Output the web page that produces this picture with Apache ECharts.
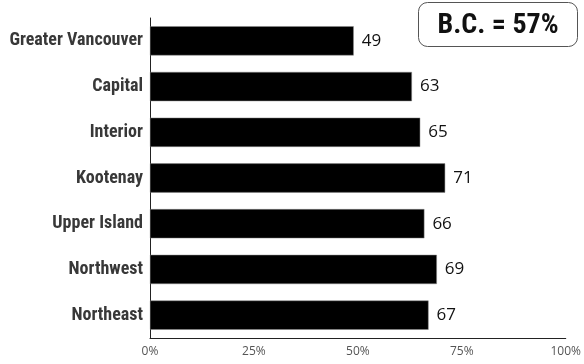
<!DOCTYPE html>
<html><head><meta charset="utf-8">
<script src="https://cdn.jsdelivr.net/npm/echarts@6/dist/echarts.min.js"></script>
<style>html,body{margin:0;padding:0;background:#fff}#c{width:584px;height:364px}</style>
</head><body><div id="c"></div>
<script>
const categories = ["Greater Vancouver","Capital","Interior","Kootenay","Upper Island","Northwest","Northeast"];
const values = [49,63,65,71,66,69,67];
const tickLabels = ["0%","25%","50%","75%","100%"];
const provinceLabel = "B.C. = 57%";
const narrow = '"Roboto Condensed", sans-serif';

const chart = echarts.init(document.getElementById('c'));
chart.setOption({
  animation:false,
  grid:{left:150,right:18,top:18,bottom:26},
  xAxis:{type:'value',min:0,max:100,interval:25,
    axisLine:{show:true,lineStyle:{color:'#222',width:1}},
    axisTick:{show:false},splitLine:{show:false},
    axisLabel:{color:'#555',fontFamily:'Open Sans',fontSize:12,fontWeight:'normal',margin:8,
      formatter:(v)=>tickLabels[Math.round(v/25)]}},
  yAxis:{type:'category',data:categories,inverse:true,
    axisLine:{show:true,lineStyle:{color:'#222',width:1}},
    axisTick:{show:false},
    axisLabel:{color:'#383838',fontFamily:narrow,fontWeight:'bold',fontSize:18,margin:7}},
  series:[{type:'bar',data:values,barCategoryGap:'36%',
    itemStyle:{color:'#000',borderColor:'#888',borderWidth:0.5},
    label:{show:true,position:'right',distance:8,color:'#111',fontFamily:'Open Sans',fontSize:17,fontWeight:500}}],
  graphic:[{type:'group',left:418,top:2,children:[
    {type:'rect',shape:{x:0,y:0,width:159,height:44,r:9},style:{fill:'#fff',stroke:'#555',lineWidth:1}},
    {type:'text',style:{x:79.5,y:23,text:provinceLabel,align:'center',verticalAlign:'middle',
      font:'bold 28px ' + narrow,fill:'#111'}}
  ]}]
});
</script></body></html>
